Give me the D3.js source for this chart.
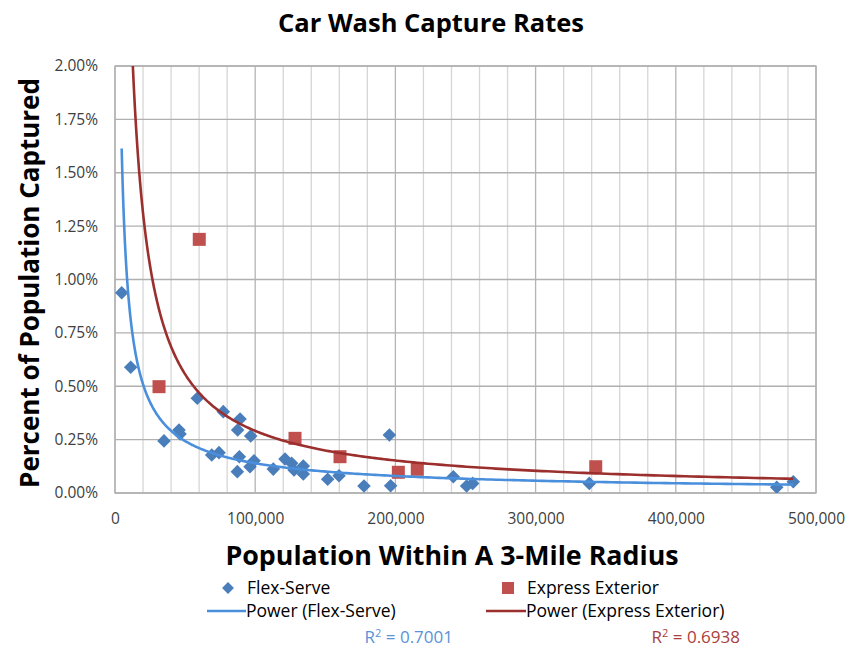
<!DOCTYPE html>
<html><head><meta charset="utf-8">
<script src="https://cdn.jsdelivr.net/npm/d3@7"></script>
<style>body{margin:0;background:#fff;} svg{display:block;} text{font-family:"Open Sans",Lato,sans-serif;}</style>
</head><body>
<svg id="c" width="851" height="647"></svg>
<script>
// Data (population within 3 miles, percent of population captured)
const flexPop = [4770, 11200, 34950, 45650, 46400, 58700, 69000, 74200, 77250, 87250, 87500, 89200, 88700, 96800, 96300, 99150, 112900, 121250, 126000, 127700, 134300, 134300, 151700, 159800, 177600, 195700, 196600, 241300, 250800, 255100, 338300, 472000, 483800];
const flexPct = [0.938, 0.589, 0.244, 0.295, 0.276, 0.444, 0.178, 0.189, 0.381, 0.100, 0.295, 0.347, 0.170, 0.267, 0.123, 0.151, 0.112, 0.159, 0.139, 0.108, 0.126, 0.089, 0.064, 0.081, 0.033, 0.272, 0.034, 0.076, 0.033, 0.045, 0.045, 0.027, 0.053];
const expPop = [31400, 60100, 128400, 160500, 202100, 215600, 342900];
const expPct = [0.498, 1.188, 0.256, 0.170, 0.097, 0.111, 0.123];
const xTicks = [0, 100000, 200000, 300000, 400000, 500000];
const yTicks = [0, 0.25, 0.5, 0.75, 1.0, 1.25, 1.5, 1.75, 2.0];
const seriesNames = ["Flex-Serve", "Express Exterior"];
const trendNames = ["Power (Flex-Serve)", "Power (Express Exterior)"];
const r2Labels = ["0.7001", "0.6938"];

const svg = d3.select("#c");
const L = 115, R = 816, T = 66, B = 493;
const x = d3.scaleLinear().domain([0, 500000]).range([L, R]);
const y = d3.scaleLinear().domain([0, 2]).range([B, T]);

const cBlue = "#4a7ebb", cRed = "#c0504d", cBlueLine = "#4a8fdc", cRedLine = "#9b2f2d";

// gridlines
const minor = d3.range(0, 500001, 20000);
svg.append("g").selectAll("line").data(minor).join("line")
  .attr("x1", d => x(d)).attr("x2", d => x(d)).attr("y1", T).attr("y2", B)
  .attr("stroke", d => d % 100000 === 0 ? "#b4b4b4" : "#d6d6d6").attr("stroke-width", 1.3);
svg.append("g").selectAll("line").data(yTicks).join("line")
  .attr("x1", L).attr("x2", R).attr("y1", d => y(d)).attr("y2", d => y(d))
  .attr("stroke", "#b0b0b0").attr("stroke-width", 1.3);
svg.append("rect").attr("x", L).attr("y", T).attr("width", R - L).attr("height", B - T)
  .attr("fill", "none").attr("stroke", "#b0b0b0").attr("stroke-width", 1.3);

// axes
const xAxis = svg.append("g").attr("transform", `translate(0,${B})`)
  .call(d3.axisBottom(x).tickValues(xTicks).tickSize(0).tickPadding(20).tickFormat(d3.format(",")));
const yAxis = svg.append("g").attr("transform", `translate(${L},0)`)
  .call(d3.axisLeft(y).tickValues(yTicks).tickSize(0).tickPadding(17).tickFormat(d => d.toFixed(2) + "%"));
[xAxis, yAxis].forEach(g => { g.select(".domain").remove(); g.selectAll("text").attr("font-size", 15.5).attr("fill", "#404040").style("font-family", "'Open Sans', sans-serif"); });

// power fit (least squares in log-log space)
function powerFit(xs, ys) {
  const lx = xs.map(Math.log), ly = ys.map(Math.log);
  const mx = d3.mean(lx), my = d3.mean(ly);
  let sxy = 0, sxx = 0;
  lx.forEach((v, i) => { sxy += (v - mx) * (ly[i] - my); sxx += (v - mx) * (v - mx); });
  const b = sxy / sxx, a = Math.exp(my - b * mx);
  return { a, b };
}
const allPop = flexPop.concat(expPop);
const xmin = d3.min(allPop), xmax = d3.max(allPop);
svg.append("clipPath").attr("id", "clip").append("rect").attr("x", L).attr("y", T).attr("width", R - L).attr("height", B - T);
const line = d3.line().x(d => x(d[0])).y(d => y(d[1]));
function curve(fit, x0) {
  const n = 400, pts = [];
  for (let i = 0; i <= n; i++) {
    const xv = Math.exp(Math.log(x0) + (Math.log(xmax) - Math.log(x0)) * i / n);
    pts.push([xv, fit.a * Math.pow(xv, fit.b)]);
  }
  return pts;
}
const fFlex = powerFit(flexPop, flexPct), fExp = powerFit(expPop, expPct);
const g = svg.append("g").attr("clip-path", "url(#clip)");

// markers
g.selectAll(".fd").data(flexPop).join("rect")
  .attr("x", -4.8).attr("y", -4.8).attr("width", 9.6).attr("height", 9.6)
  .attr("transform", (d, i) => `translate(${x(d)},${y(flexPct[i])}) rotate(45)`)
  .attr("fill", cBlue);
g.selectAll(".es").data(expPop).join("rect")
  .attr("x", (d) => x(d) - 6.5).attr("y", (d, i) => y(expPct[i]) - 6.5)
  .attr("width", 13).attr("height", 13).attr("fill", cRed);

g.append("path").attr("d", line(curve(fFlex, xmin))).attr("fill", "none").attr("stroke", cBlueLine).attr("stroke-width", 2.6);
g.append("path").attr("d", line(curve(fExp, xmin))).attr("fill", "none").attr("stroke", cRedLine).attr("stroke-width", 2.6);

// titles
svg.append("text").attr("x", 431).attr("y", 32).attr("text-anchor", "middle").attr("font-size", 25.5).attr("font-weight", "bold").attr("fill", "#000").text("Car Wash Capture Rates");
svg.append("text").attr("x", 452).attr("y", 565).attr("text-anchor", "middle").attr("font-size", 26.8).attr("font-weight", "bold").attr("fill", "#000").text("Population Within A 3-Mile Radius");
svg.append("text").attr("transform", "translate(39,283) rotate(-90)").attr("text-anchor", "middle").attr("font-size", 26).attr("font-weight", "bold").attr("fill", "#000").text("Percent of Population Captured");

// legend
const lg = svg.append("g").attr("font-size", 17.5).attr("fill", "#000");
lg.append("rect").attr("x", -4.2).attr("y", -4.2).attr("width", 8.4).attr("height", 8.4).attr("fill", cBlue).attr("transform", "translate(228,588) rotate(45)");
lg.append("text").attr("x", 247).attr("y", 594).text(seriesNames[0]);
lg.append("rect").attr("x", 502).attr("y", 582).attr("width", 12).attr("height", 12).attr("fill", cRed);
lg.append("text").attr("x", 527).attr("y", 594).text(seriesNames[1]);
lg.append("line").attr("x1", 207).attr("x2", 246).attr("y1", 611).attr("y2", 611).attr("stroke", cBlueLine).attr("stroke-width", 2.6);
lg.append("text").attr("x", 246).attr("y", 617).text(trendNames[0]);
lg.append("line").attr("x1", 486).attr("x2", 526).attr("y1", 611).attr("y2", 611).attr("stroke", cRedLine).attr("stroke-width", 2.6);
lg.append("text").attr("x", 526).attr("y", 617).text(trendNames[1]);
const r1 = lg.append("text").attr("x", 453).attr("y", 643).attr("text-anchor", "end").attr("fill", "#5b92d8").attr("font-size", 17);
r1.append("tspan").text("R");
r1.append("tspan").attr("font-size", 11).attr("dy", -6).text("2");
r1.append("tspan").attr("dy", 6).text(" = " + r2Labels[0]);
const r2 = lg.append("text").attr("x", 740).attr("y", 643).attr("text-anchor", "end").attr("fill", "#a8403c").attr("font-size", 17);
r2.append("tspan").text("R");
r2.append("tspan").attr("font-size", 11).attr("dy", -6).text("2");
r2.append("tspan").attr("dy", 6).text(" = " + r2Labels[1]);
</script>
</body></html>
